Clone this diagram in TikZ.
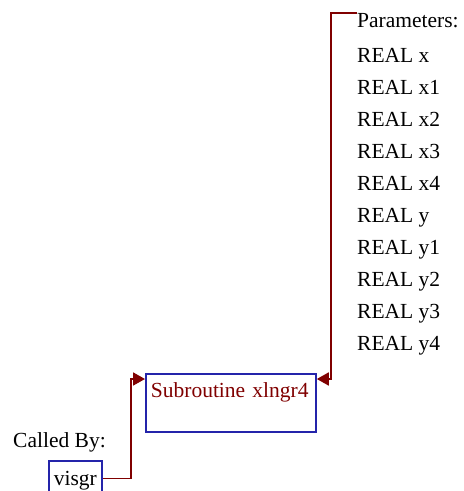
\documentclass[tikz,border=0pt]{standalone}
\usepackage{fontspec}
\setmainfont{Liberation Serif}
\usetikzlibrary{positioning,arrows.meta,calc}
\definecolor{sbBlue}{RGB}{36,36,170}
\definecolor{sbRed}{RGB}{128,0,0}

\begin{document}
\begin{tikzpicture}[
  x=1pt, y=-1pt,
  font=\fontsize{21.5}{25}\selectfont,
  lbl/.style={anchor=base west, inner sep=0pt},
  subbox/.style={draw=sbBlue, line width=1.8pt, anchor=north west, inner ysep=0pt, align=left},
  conn/.style={draw=sbRed, line width=1.8pt, -{Triangle[length=12pt, width=13pt]}},
]
\useasboundingbox (0,0) rectangle (464,491);
% routine box
\node[subbox, text=sbRed, inner xsep=5pt, text width=160pt, text height=24pt, text depth=34pt] (main) at (145,373) {Subroutine xlngr4};
% callers
\node[lbl] (callby) at (13,447) {Called By:};
\node[subbox, inner xsep=5pt, text height=25pt, text depth=10pt] (visgr) at (48,460) {visgr};
% parameter list
\node[lbl] (params) at (357,27) {Parameters:};
\foreach \p [count=\i] in {x,x1,x2,x3,x4,y,y1,y2,y3,y4}
  \node[lbl] (p\i) at (357,{62.5+32*(\i-1)}) {REAL \p};
% connectors
\draw[conn] (visgr.east) -- ++(28,0) |- ([yshift=-6pt]main.north west);
\draw[conn] (params.north west) -- ++(-26,0) |- ([yshift=-6pt]main.north east);
\end{tikzpicture}
\end{document}
